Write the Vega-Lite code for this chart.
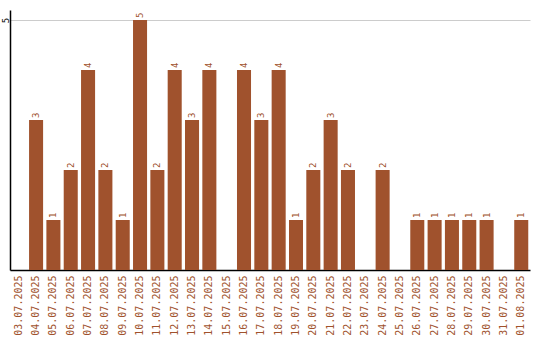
{
  "$schema": "https://vega.github.io/schema/vega-lite/v6.json",
  "autosize": "none",
  "width": 520,
  "height": 260,
  "padding": {"left": 10, "top": 10, "right": 10, "bottom": 70},
  "config": {"view": {"stroke": null}, "font": "DejaVu Sans Mono"},
  "data": {"values": [
    {"d": "03.07.2025", "v": 0},
    {"d": "04.07.2025", "v": 3},
    {"d": "05.07.2025", "v": 1},
    {"d": "06.07.2025", "v": 2},
    {"d": "07.07.2025", "v": 4},
    {"d": "08.07.2025", "v": 2},
    {"d": "09.07.2025", "v": 1},
    {"d": "10.07.2025", "v": 5},
    {"d": "11.07.2025", "v": 2},
    {"d": "12.07.2025", "v": 4},
    {"d": "13.07.2025", "v": 3},
    {"d": "14.07.2025", "v": 4},
    {"d": "15.07.2025", "v": 0},
    {"d": "16.07.2025", "v": 4},
    {"d": "17.07.2025", "v": 3},
    {"d": "18.07.2025", "v": 4},
    {"d": "19.07.2025", "v": 1},
    {"d": "20.07.2025", "v": 2},
    {"d": "21.07.2025", "v": 3},
    {"d": "22.07.2025", "v": 2},
    {"d": "23.07.2025", "v": 0},
    {"d": "24.07.2025", "v": 2},
    {"d": "25.07.2025", "v": 0},
    {"d": "26.07.2025", "v": 1},
    {"d": "27.07.2025", "v": 1},
    {"d": "28.07.2025", "v": 1},
    {"d": "29.07.2025", "v": 1},
    {"d": "30.07.2025", "v": 1},
    {"d": "31.07.2025", "v": 0},
    {"d": "01.08.2025", "v": 1}
  ]},
  "encoding": {
    "x": {"field": "d", "type": "nominal", "sort": null,
      "scale": {"paddingInner": 0.19, "paddingOuter": 0.1},
      "axis": {"title": null, "labelAngle": -90, "labelColor": "#a0522d", "labelFont": "DejaVu Sans Mono", "labelFontSize": 10, "labelPadding": 5, "ticks": false, "domainColor": "#000000", "domainWidth": 1.5, "labelBaseline": "middle"}},
    "y": {"field": "v", "type": "quantitative",
      "scale": {"domain": [0, 5.2], "nice": false},
      "axis": {"title": null, "values": [5], "grid": true, "gridColor": "#cccccc", "ticks": false, "labelAngle": -90, "labelColor": "#000000", "labelFontSize": 9, "labelPadding": 5, "domainColor": "#000000", "domainWidth": 1.5, "labelAlign": "center", "labelBaseline": "middle"}}
  },
  "layer": [
    {"mark": {"type": "bar", "color": "#a0522d"}},
    {"transform": [{"filter": "datum.v > 0"}],
     "mark": {"type": "text", "angle": 270, "align": "left", "baseline": "middle", "dx": 2, "color": "#a0522d", "fontSize": 9, "font": "DejaVu Sans Mono"},
     "encoding": {"text": {"field": "v", "type": "quantitative"}}}
  ]
}
